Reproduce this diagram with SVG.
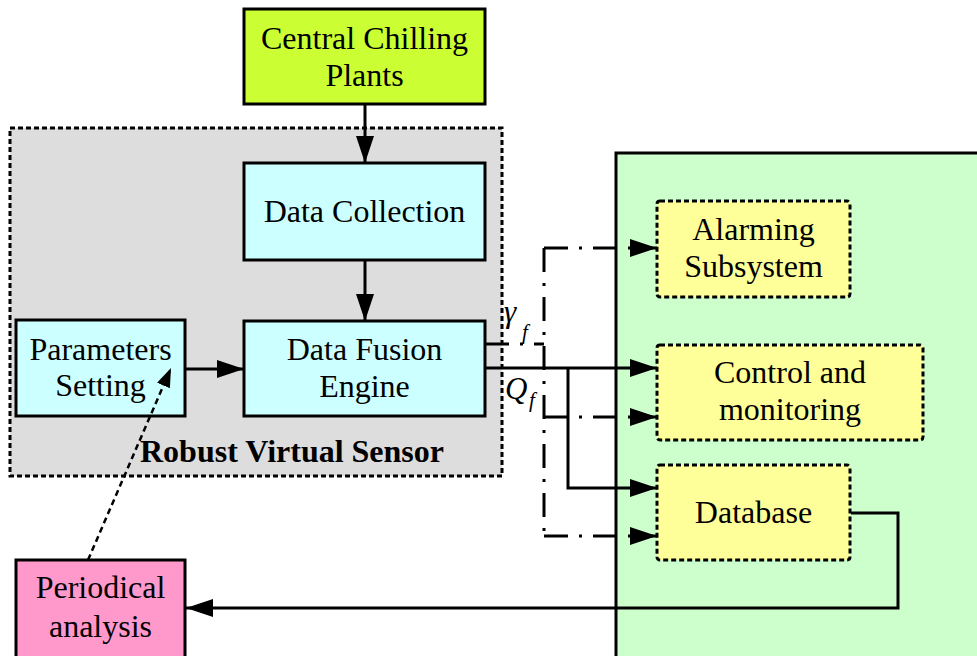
<svg xmlns="http://www.w3.org/2000/svg" width="977" height="656" viewBox="0 0 977 656">
  <style>
    .lbl { font-family: "Liberation Serif", "Times New Roman", serif; font-size: 32px; fill: #000; text-anchor: middle; }
    .bold { font-weight: bold; font-size: 32px; }
    .math { font-family: "Liberation Serif", "Times New Roman", serif; font-style: italic; fill: #000; }
    .solidBox { stroke: #000; stroke-width: 3; }
    .dotBox { stroke: #000; stroke-width: 3; stroke-dasharray: 5 3; }
    .wire { fill: none; stroke: #000; stroke-width: 3; }
    .dashdot { fill: none; stroke: #000; stroke-width: 3; stroke-dasharray: 24 11 3 11; }
    .dotted { fill: none; stroke: #000; stroke-width: 2.5; stroke-dasharray: 6 4; }
  </style>
  <defs>
    <marker id="arrow" markerUnits="userSpaceOnUse" markerWidth="28" markerHeight="18" refX="27" refY="9" orient="auto">
      <path d="M0,0 L27,9 L0,18 z" fill="#000"/>
    </marker>
    <marker id="arrowSmall" markerUnits="userSpaceOnUse" markerWidth="20" markerHeight="14" refX="19" refY="7" orient="auto">
      <path d="M0,0 L19,7 L0,14 z" fill="#000"/>
    </marker>
  </defs>

  <rect width="977" height="656" fill="#fff"/>

  <!-- Robust virtual sensor container -->
  <g id="robust-virtual-sensor">
    <rect x="10" y="128" width="492" height="348" fill="#dddddd" class="dotBox"/>
    <text class="lbl bold" x="292" y="462">Robust Virtual Sensor</text>
  </g>

  <!-- Application side container -->
  <g id="application-area">
    <rect x="616" y="153" width="420" height="560" fill="#ccffcc" class="solidBox"/>
  </g>

  <g id="central-chilling-plants">
    <rect x="244" y="9" width="241" height="95" fill="#ccff33" class="solidBox"/>
    <text class="lbl" x="364.5" y="49">Central Chilling</text>
    <text class="lbl" x="364.5" y="86">Plants</text>
  </g>

  <g id="data-collection">
    <rect x="244" y="163" width="241" height="97" fill="#ccffff" class="solidBox"/>
    <text class="lbl" x="364.5" y="222">Data Collection</text>
  </g>

  <g id="data-fusion-engine">
    <rect x="244" y="321" width="241" height="95" fill="#ccffff" class="solidBox"/>
    <text class="lbl" x="364.5" y="360">Data Fusion</text>
    <text class="lbl" x="364.5" y="397">Engine</text>
  </g>

  <g id="parameters-setting">
    <rect x="16" y="320" width="169" height="96" fill="#ccffff" class="solidBox"/>
    <text class="lbl" x="100.5" y="360">Parameters</text>
    <text class="lbl" x="100.5" y="396">Setting</text>
  </g>

  <g id="alarming-subsystem">
    <rect x="657" y="201" width="193" height="96" rx="3" fill="#ffff99" class="dotBox"/>
    <text class="lbl" x="753.5" y="240">Alarming</text>
    <text class="lbl" x="753.5" y="277">Subsystem</text>
  </g>

  <g id="control-and-monitoring">
    <rect x="657" y="345" width="266" height="95" rx="3" fill="#ffff99" class="dotBox"/>
    <text class="lbl" x="790" y="383">Control and</text>
    <text class="lbl" x="790" y="420">monitoring</text>
  </g>

  <g id="database">
    <rect x="657" y="465" width="193" height="95" rx="3" fill="#ffff99" class="dotBox"/>
    <text class="lbl" x="753.5" y="523">Database</text>
  </g>

  <g id="periodical-analysis">
    <rect x="16" y="560" width="169" height="110" fill="#ff99cc" class="solidBox"/>
    <text class="lbl" x="100.5" y="598">Periodical</text>
    <text class="lbl" x="100.5" y="637">analysis</text>
  </g>

  <!-- Connectors -->
  <g id="connectors">
    <path class="wire" d="M365,104 V163" marker-end="url(#arrow)"/>
    <path class="wire" d="M365,260 V321" marker-end="url(#arrow)"/>
    <path class="wire" d="M185,369 H244" marker-end="url(#arrow)"/>

    <!-- Q_f output -->
    <path class="wire" d="M485,368 H657" marker-end="url(#arrow)"/>
    <path class="wire" d="M568,368 V488 H657" marker-end="url(#arrow)"/>

    <!-- gamma_f output -->
    <path class="dashdot" d="M485,344 H544"/>
    <path class="dashdot" d="M544,248 V536"/>
    <path class="dashdot" d="M544,248 H657" marker-end="url(#arrow)"/>
    <path class="dashdot" d="M544,417 H657" marker-end="url(#arrow)"/>
    <path class="dashdot" d="M544,536 H657" marker-end="url(#arrow)"/>

    <!-- Database feedback -->
    <path class="wire" d="M851,513 H898 V608 H186" marker-end="url(#arrow)"/>

    <!-- Periodical analysis tuning parameters -->
    <path class="dotted" d="M88,560 L171,368" marker-end="url(#arrowSmall)"/>

    <text class="math" x="504" y="322" font-size="31">γ</text>
    <text class="math" x="522" y="339" font-size="21">f</text>
    <text class="math" x="505" y="399" font-size="31">Q</text>
    <text class="math" x="529" y="407" font-size="21">f</text>
  </g>
</svg>
